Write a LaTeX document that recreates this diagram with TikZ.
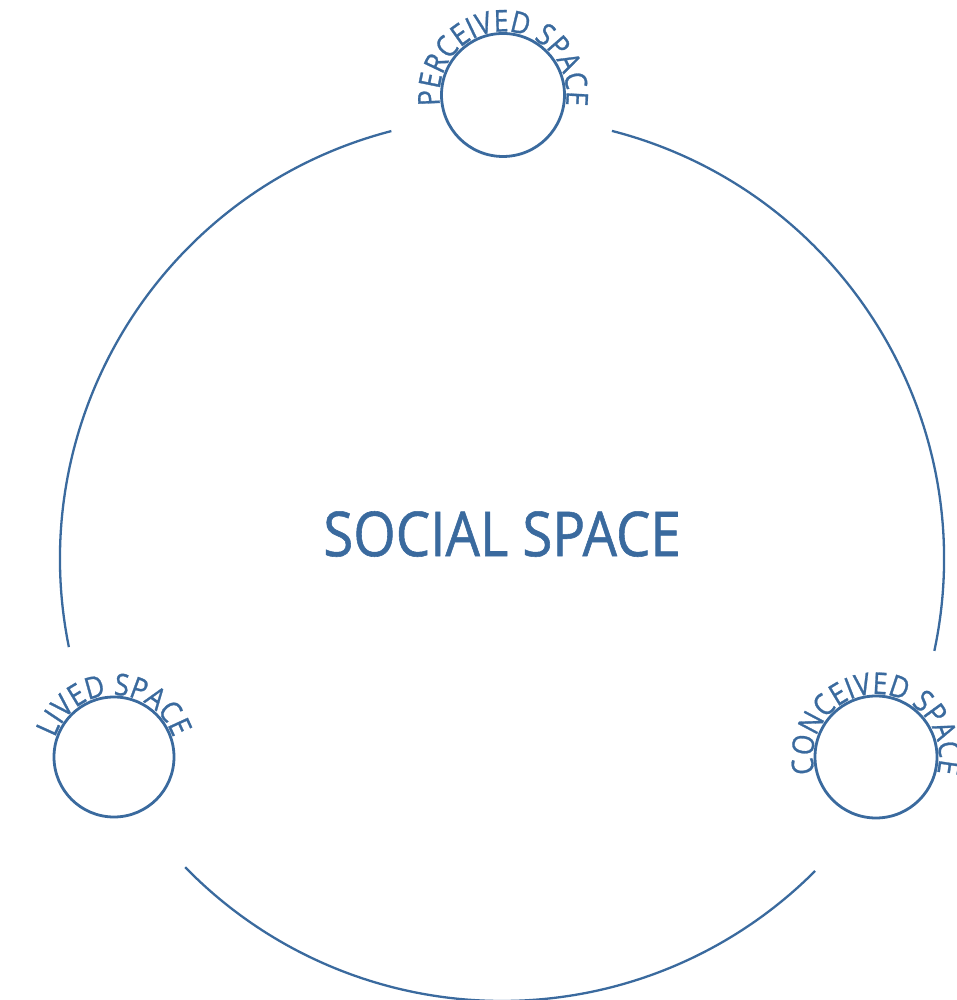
\documentclass[tikz,border=0pt]{standalone}
\usepackage{fontspec}
\setmainfont[FakeStretch=0.88,FakeBold=0.9]{Open Sans}
\usetikzlibrary{decorations.text}
\definecolor{cblue}{RGB}{58,106,158}
\newcommand\arcfont{\fontsize{30}{30}\selectfont}
\begin{document}
\begin{tikzpicture}[x=1pt,y=1pt,
  ring/.style={draw=cblue,line width=2.3pt},
  small/.style={circle,draw=cblue,line width=2.8pt,inner sep=0pt},
  arctext/.style={decorate,decoration={text along path,text align=center,
     text={|\arcfont\color{cblue}|#1}}}]
\useasboundingbox (0,0) rectangle (957,1000);
\coordinate (c) at (502,441);
\draw[ring] ([shift={(104.5:442)}]c) arc[start angle=104.5,end angle=191.5,radius=442];
\draw[ring] ([shift={(224.2:442)}]c) arc[start angle=224.2,end angle=315.1,radius=442];
\draw[ring] ([shift={(-12:442)}]c) arc[start angle=-12,end angle=75.6,radius=442];
\node[small,minimum size=123pt] (perc) at (503,905) {};
\node[small,minimum size=120pt] (lived) at (114,243) {};
\node[small,minimum size=122pt] (conc) at (876,243) {};
\path[arctext={PERCEIVED SPACE}] ([shift={(240:63.5)}]perc.center) arc[start angle=240,end angle=-60,radius=63.5];
\path[arctext={LIVED SPACE}] ([shift={(240:62)}]lived.center) arc[start angle=240,end angle=-60,radius=62];
\path[arctext={CONCEIVED SPACE}] ([shift={(240:63)}]conc.center) arc[start angle=240,end angle=-60,radius=63];
\node[text=cblue,font=\fontsize{62}{62}\selectfont,inner sep=0pt] (social) at (502,466) {SOCIAL SPACE};
\end{tikzpicture}
\end{document}
